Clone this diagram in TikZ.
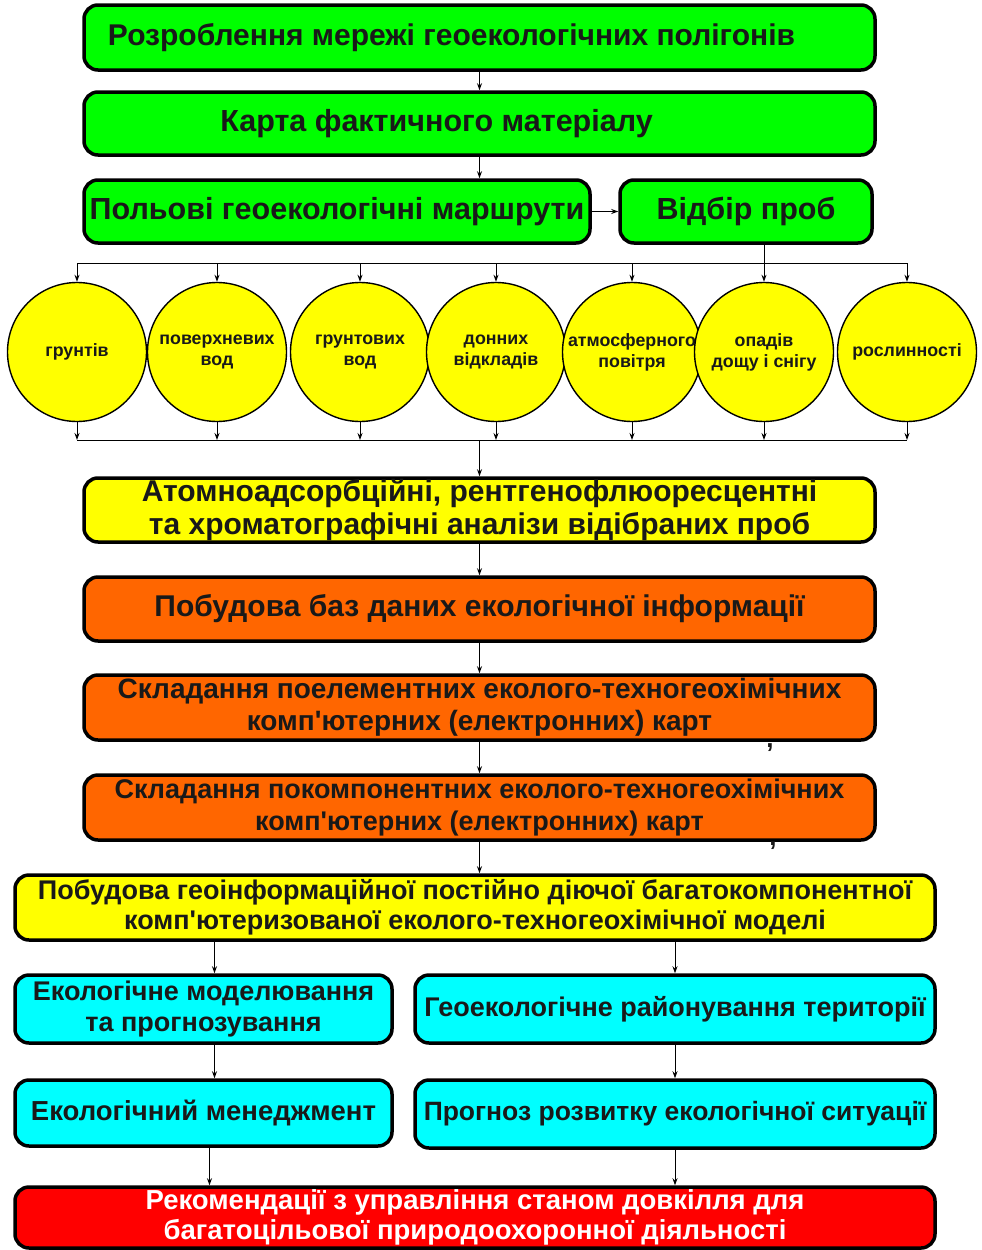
\documentclass[tikz,border=0pt]{standalone}
\usepackage{fontspec}
\setmainfont{Liberation Sans}
\usetikzlibrary{arrows.meta}

\definecolor{boxgreen}{RGB}{0,255,0}
\definecolor{boxyellow}{RGB}{255,255,0}
\definecolor{boxorange}{RGB}{255,102,0}
\definecolor{boxcyan}{RGB}{0,255,255}
\definecolor{boxred}{RGB}{255,0,0}
\definecolor{inkdark}{RGB}{25,25,25}

\newcommand\boxfont[2]{\bfseries\fontsize{#1}{#2}\selectfont}

\tikzset{
  stage/.style={draw=black, line width=3.5pt, rounded corners=14pt,
    inner sep=0pt, align=center, text=inkdark},
  sample/.style={draw=black, line width=1.4pt, circle, fill=boxyellow,
    minimum size=139pt, inner sep=0pt, align=center, text=inkdark,
    font=\boxfont{17.8}{21}},
  flow/.style={-{Stealth[length=7pt,width=5pt]}, line width=1pt}
}

\begin{document}
\begin{tikzpicture}[x=1pt,y=-1pt]

  % Fix the page to the size of the picture
  \useasboundingbox (0,0) rectangle (982,1250);

  % Define the two bus lines round the samples
  \coordinate (bustop) at (0,263);
  \coordinate (busbot) at (0,440);

  % Draw the green stages at the top
  \node[stage, fill=boxgreen, minimum width=791pt, minimum height=65pt,
    font=\boxfont{30}{33}] (dev) at (479.5,37.5)
    {Розроблення мережі геоекологічних полігонів\hspace*{56pt}};
  \node[stage, fill=boxgreen, minimum width=791pt, minimum height=63pt,
    font=\boxfont{30.5}{33}] (map) at (479.5,123.5)
    {Карта фактичного матеріалу\hspace*{86pt}};
  \node[stage, fill=boxgreen, minimum width=506pt, minimum height=63pt,
    font=\boxfont{30.5}{33}] (route) at (337,211.5)
    {Польові геоекологічні маршрути};
  \node[stage, fill=boxgreen, minimum width=252pt, minimum height=63pt,
    font=\boxfont{30.5}{33}] (probe) at (746,211.5) {Відбір проб};

  % Draw the samples, one circle each
  \node[sample] (c1) at (77,352) {грунтів};
  \node[sample] (c2) at (217,352) {поверхневих\\вод};
  \node[sample] (c3) at (360,352) {грунтових\\вод};
  \node[sample] (c4) at (496,352) {донних\\відкладів};
  \node[sample] (c5) at (632,352) {атмосферного\\повітря};
  \node[sample] (c6) at (764,352) {опадів\\дощу і снігу};
  \node[sample] (c7) at (907,352) {рослинності};

  % Draw the analysis and map stages
  \node[stage, fill=boxyellow, minimum width=791pt, minimum height=64pt,
    font=\boxfont{30}{33}] (anal) at (479.5,510)
    {Атомноадсорбційні, рентгенофлюоресцентні\\та хроматографічні аналізи відібраних проб};
  \node[stage, fill=boxorange, minimum width=791pt, minimum height=64pt,
    font=\boxfont{30}{33}] (db) at (479.5,609)
    {Побудова баз даних екологічної інформації};
  \node[stage, fill=boxorange, minimum width=791pt, minimum height=65pt,
    font=\boxfont{28}{32}] (elem) at (479.5,707.5)
    {Складання поелементних еколого-техногеохімічних\\комп\textquotesingle ютерних (електронних) карт};
  \node[stage, fill=boxorange, minimum width=791pt, minimum height=65pt,
    font=\boxfont{27}{32}] (comp) at (479.5,807.5)
    {Складання покомпонентних еколого-техногеохімічних\\комп\textquotesingle ютерних (електронних) карт};

  % Stray marks beside the arrows
  \node[font=\boxfont{26}{26}, text=inkdark] (mark1) at (770,748) {,};
  \node[font=\boxfont{26}{26}, text=inkdark] (mark2) at (773,846) {,};

  % Draw the model stage
  \node[stage, fill=boxyellow, minimum width=920pt, minimum height=65pt,
    font=\boxfont{27}{30}] (gis) at (475,907.5)
    {Побудова геоінформаційної постійно діючої багатокомпонентної\\комп\textquotesingle ютеризованої еколого-техногеохімічної моделі};

  % Draw the cyan stages in two columns
  \node[stage, fill=boxcyan, minimum width=377pt, minimum height=68pt,
    font=\boxfont{27}{31}] (model) at (203.5,1009)
    {Екологічне моделювання\\та прогнозування};
  \node[stage, fill=boxcyan, minimum width=520pt, minimum height=68pt,
    font=\boxfont{27}{31}] (zone) at (675,1009)
    {Геоекологічне районування території};
  \node[stage, fill=boxcyan, minimum width=377pt, minimum height=66pt,
    font=\boxfont{27.5}{31}] (manag) at (203.5,1113)
    {Екологічний менеджмент};
  \node[stage, fill=boxcyan, minimum width=520pt, minimum height=68pt,
    font=\boxfont{26.5}{31}] (fcast) at (675,1114)
    {Прогноз розвитку екологічної ситуації};

  % Draw the red stage at the bottom
  \node[stage, fill=boxred, text=white, minimum width=920pt, minimum height=61pt,
    font=\boxfont{27.5}{30}] (recom) at (475,1217.5)
    {Рекомендації з управління станом довкілля для\\багатоцільової природоохоронної діяльності};

  % Draw the arrows of the top part
  \draw[flow] (dev) -- (map);
  \draw[flow] (map.south) -- (map.south |- route.north);
  \draw[flow] (route) -- (probe);

  % Draw the bus lines and the arrows to and from the samples
  \draw[line width=1pt] (probe.south -| c6) -- (c6 |- bustop);
  \draw[line width=1pt] (c1 |- bustop) -- (c7 |- bustop);
  \draw[line width=1pt] (c1 |- busbot) -- (c7 |- busbot);
  \foreach \i in {1,...,7} {
    \draw[flow] (c\i |- bustop) -- (c\i.north);
    \draw[flow] (c\i.south) -- (c\i |- busbot);
  }
  \draw[flow] (busbot -| anal) -- (anal.north);

  % Draw the arrows down the middle
  \draw[flow] (anal) -- (db);
  \draw[flow] (db) -- (elem);
  \draw[flow] (elem) -- (comp);
  \draw[flow] (comp.south) -- (comp.south |- gis.north);

  % Draw the arrows of the two columns
  \draw[flow] ([xshift=11pt]gis.south -| model) -- ([xshift=11pt]model.north);
  \draw[flow] (gis.south -| zone) -- (zone.north);
  \draw[flow] ([xshift=11pt]model.south) -- ([xshift=11pt]manag.north);
  \draw[flow] (zone) -- (fcast);
  \draw[flow] ([xshift=6pt]manag.south) -- ([xshift=6pt]manag.south |- recom.north);
  \draw[flow] (fcast.south) -- (fcast.south |- recom.north);

\end{tikzpicture}
\end{document}
